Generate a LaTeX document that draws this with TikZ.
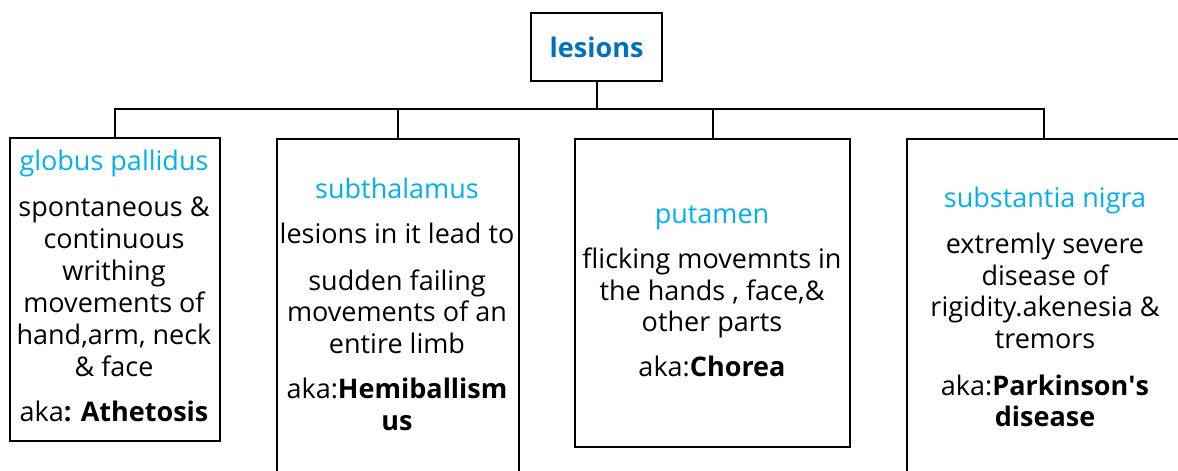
\documentclass[tikz,border=0pt]{standalone}
\usepackage{fontspec}
\setmainfont{Open Sans}
\definecolor{headblue}{HTML}{00B0F0}
\definecolor{lesblue}{HTML}{0070C0}
\newcommand\txtfont{\fontsize{27}{32}\selectfont}
\begin{document}
\begin{tikzpicture}[x=1pt,y=-1pt,
  box/.style={draw, line width=2.2pt, inner sep=0pt, anchor=north west},
  conn/.style={line width=2pt},
  head/.style={text=headblue, anchor=mid, inner sep=0pt, yshift=-6pt, font=\txtfont},
  body/.style={text=black, anchor=mid, inner sep=0pt, yshift=-6pt, font=\txtfont}]
\useasboundingbox (0,0) rectangle (1178,471);
\clip (0,0) rectangle (1178,471);

% top node
\node[box, minimum width=131pt, minimum height=68pt, text=lesblue,
      font=\txtfont\bfseries] (les) at (530,12) {lesions};

% the four regions
\node[box, minimum width=210pt, minimum height=303pt] (gp)  at (9,137)   {};
\node[box, minimum width=242pt, minimum height=360pt] (sub) at (276,138) {};
\node[box, minimum width=275pt, minimum height=308pt] (put) at (574,138) {};
\node[box, minimum width=274pt, minimum height=360pt] (sn)  at (906,138) {};

% connectors
\coordinate (bus) at (596,109);
\draw[conn] (les.south) -- (les.south |- bus);
\draw[conn] (gp.north) |- (bus) -| (sn.north);
\draw[conn] (sub.north) -- (sub.north |- bus);
\draw[conn] (put.north) -- (put.north |- bus);

% globus pallidus
\node[head] (gp-h) at (114,162) {globus pallidus};
\node[body] (gp-1) at (114,208) {spontaneous \&};
\node[body] (gp-2) at (114,240) {continuous};
\node[body] (gp-3) at (114,272) {writhing};
\node[body] (gp-4) at (114,304) {movements of};
\node[body] (gp-5) at (114,336) {hand,arm, neck};
\node[body] (gp-6) at (114,368) {\& face};
\node[body] (gp-a) at (114,413) {aka\textbf{: Athetosis}};

% subthalamus
\node[head] (sub-h) at (397,190) {subthalamus};
\node[body] (sub-0) at (397,235) {lesions in it lead to};
\node[body] (sub-1) at (397,282) {sudden failing};
\node[body] (sub-2) at (397,313) {movements of an};
\node[body] (sub-3) at (397,345) {entire limb};
\node[body] (sub-a) at (397,390) {aka:\textbf{Hemiballism}};
\node[body] (sub-b) at (397,422) {\textbf{us}};

% putamen
\node[head] (put-h) at (712,215) {putamen};
\node[body] (put-1) at (712,260) {flicking movemnts in};
\node[body] (put-2) at (712,292) {the hands , face,\&};
\node[body] (put-3) at (712,323) {other parts};
\node[body] (put-a) at (712,368) {aka:\textbf{Chorea}};

% substantia nigra
\node[head] (sn-h) at (1045,199) {substantia nigra};
\node[body] (sn-1) at (1045,245) {extremly severe};
\node[body] (sn-2) at (1045,277) {disease of};
\node[body] (sn-3) at (1045,308) {rigidity.akenesia \&};
\node[body] (sn-4) at (1045,340) {tremors};
\node[body] (sn-a) at (1045,387) {aka:\textbf{Parkinson\textquotesingle s}};
\node[body] (sn-b) at (1045,418) {\textbf{disease}};
\end{tikzpicture}
\end{document}
